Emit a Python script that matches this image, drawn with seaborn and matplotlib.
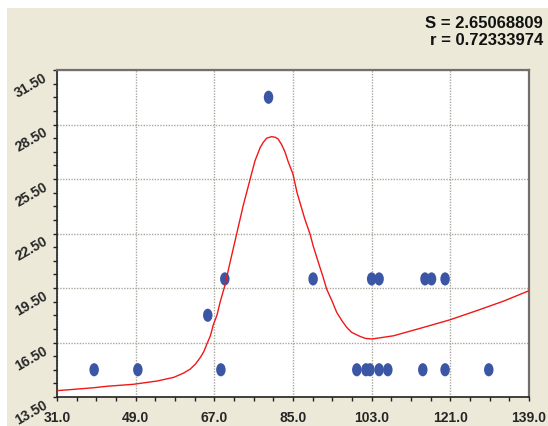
import numpy as np
import pandas as pd
import seaborn as sns
import matplotlib
matplotlib.use("Agg")
import matplotlib.pyplot as plt
from matplotlib.path import Path
from matplotlib.transforms import Affine2D
from matplotlib.patches import Rectangle
from matplotlib.ticker import FixedLocator, FormatStrFormatter

# Observed points
obs_x = [39.5, 49.5, 68.5, 99.6, 101.7, 102.6, 104.7, 106.7, 114.7, 119.8, 129.8,
         69.4, 89.6, 103.0, 104.7, 115.2, 116.7, 119.8,
         65.5, 79.4]
obs_y = [15.0, 15.0, 15.0, 15.0, 15.0, 15.0, 15.0, 15.0, 15.0, 15.0, 15.0,
         20.0, 20.0, 20.0, 20.0, 20.0, 20.0, 20.0,
         18.0, 30.0]

# Fitted curve
fit_x = [31.0, 34.8, 39.4, 42.4, 48.5, 53.9, 57.7, 60.0, 61.5, 62.7, 63.8, 64.6,
         65.3, 66.1, 66.8, 67.6, 68.3, 69.4, 70.6, 72.1, 73.6, 75.2, 76.3, 77.5,
         78.2, 79.0, 80.1, 80.9, 81.6, 82.4, 83.2, 83.9, 85.0, 85.9, 87.7, 88.9,
         89.6, 90.8, 91.9, 92.7, 93.9, 95.0, 96.2, 97.3, 98.4, 100.3, 101.5, 103.0,
         108.0, 114.1, 120.8, 127.0, 133.1, 139.0]
fit_y = [13.85, 13.92, 14.01, 14.09, 14.20, 14.38, 14.58, 14.82, 15.04, 15.32, 15.68, 16.00,
         16.42, 16.87, 17.50, 18.00, 18.70, 19.63, 20.91, 22.47, 24.03, 25.50, 26.50, 27.24,
         27.52, 27.75, 27.83, 27.80, 27.70, 27.39, 26.97, 26.45, 25.77, 24.77, 23.30, 22.47,
         21.83, 20.91, 20.09, 19.44, 18.80, 18.16, 17.70, 17.33, 17.06, 16.84, 16.73, 16.69,
         16.87, 17.28, 17.74, 18.25, 18.77, 19.35]

x_ticks = [31.0, 49.0, 67.0, 85.0, 103.0, 121.0, 139.0]
y_ticks = [13.5, 16.5, 19.5, 22.5, 25.5, 28.5, 31.5]
stats_lines = ["S = 2.65068809", "r = 0.72333974"]

sns.set_style("white")
plt.rcParams["font.family"] = ["Liberation Sans", "DejaVu Sans"]

fig = plt.figure(figsize=(5.48, 4.27), dpi=100)
fig.patch.set_facecolor("white")
# beige panel with a thin white margin on top and left
fig.patches.append(Rectangle((7 / 548, 0), 1, (427 - 9) / 427, transform=fig.transFigure,
                             facecolor="#ECE9D8", edgecolor="none", zorder=-5))

ax = fig.add_axes([57 / 548, 29 / 427, 472 / 548, 327 / 427])
ax.set_zorder(2)
ax.set_facecolor("white")

pts = pd.DataFrame({"x": obs_x, "y": obs_y})
curve = pd.DataFrame({"x": fit_x, "y": fit_y})

ellipse = Path.unit_circle().transformed(Affine2D().scale(0.72, 1.0))
sns.scatterplot(data=pts, x="x", y="y", ax=ax, marker=ellipse, s=90,
                color="#3A56A5", edgecolor="none", linewidth=0, zorder=3)
sns.lineplot(data=curve, x="x", y="y", ax=ax, color="#F01818", lw=1.0,
             estimator=None, sort=False, zorder=4)

ax.set_xlim(x_ticks[0], x_ticks[-1])
ax.set_ylim(y_ticks[0], y_ticks[-1])
ax.set_xlabel("")
ax.set_ylabel("")

# four minor intervals between major ticks
x_step = (x_ticks[1] - x_ticks[0]) / 4
y_step = (y_ticks[1] - y_ticks[0]) / 4
ax.xaxis.set_major_locator(FixedLocator(x_ticks))
ax.yaxis.set_major_locator(FixedLocator(y_ticks))
ax.xaxis.set_minor_locator(FixedLocator(np.arange(x_ticks[0], x_ticks[-1] + 1e-6, x_step)))
ax.yaxis.set_minor_locator(FixedLocator(np.arange(y_ticks[0], y_ticks[-1] + 1e-6, y_step)))
ax.xaxis.set_major_formatter(FormatStrFormatter("%.1f"))
ax.yaxis.set_major_formatter(FormatStrFormatter("%.2f"))

ax.grid(True, which="major", color="#A8A89E", linestyle=(0, (1, 1)), lw=1.0)
ax.set_axisbelow(True)

ax.tick_params(axis="both", which="both", direction="out", length=3.2, width=1,
               color="#222222", bottom=True, left=True, top=False, right=False)
ax.tick_params(axis="x", which="major", pad=6.5, labelsize=10)
ax.tick_params(axis="y", which="major", pad=7, labelsize=10)
for lab in ax.get_xticklabels():
    lab.set_fontweight("bold")
for lab in ax.get_yticklabels():
    lab.set_fontweight("bold")
    lab.set_rotation(30)
    lab.set_rotation_mode("anchor")
    lab.set_ha("right")
    lab.set_va("top")

for side in ("left", "bottom"):
    ax.spines[side].set_color("#222222")
    ax.spines[side].set_linewidth(1.2)
for side in ("top", "right"):
    ax.spines[side].set_color("#707070")
    ax.spines[side].set_linewidth(1.6)

fig.text(543 / 548, 1 - 23.5 / 427, stats_lines[0], ha="right", va="center",
         fontsize=12, fontweight="bold", color="#111111")
fig.text(543 / 548, 1 - 40.5 / 427, stats_lines[1], ha="right", va="center",
         fontsize=12, fontweight="bold", color="#111111")

fig.savefig("out.png", dpi=100, facecolor=fig.get_facecolor())
